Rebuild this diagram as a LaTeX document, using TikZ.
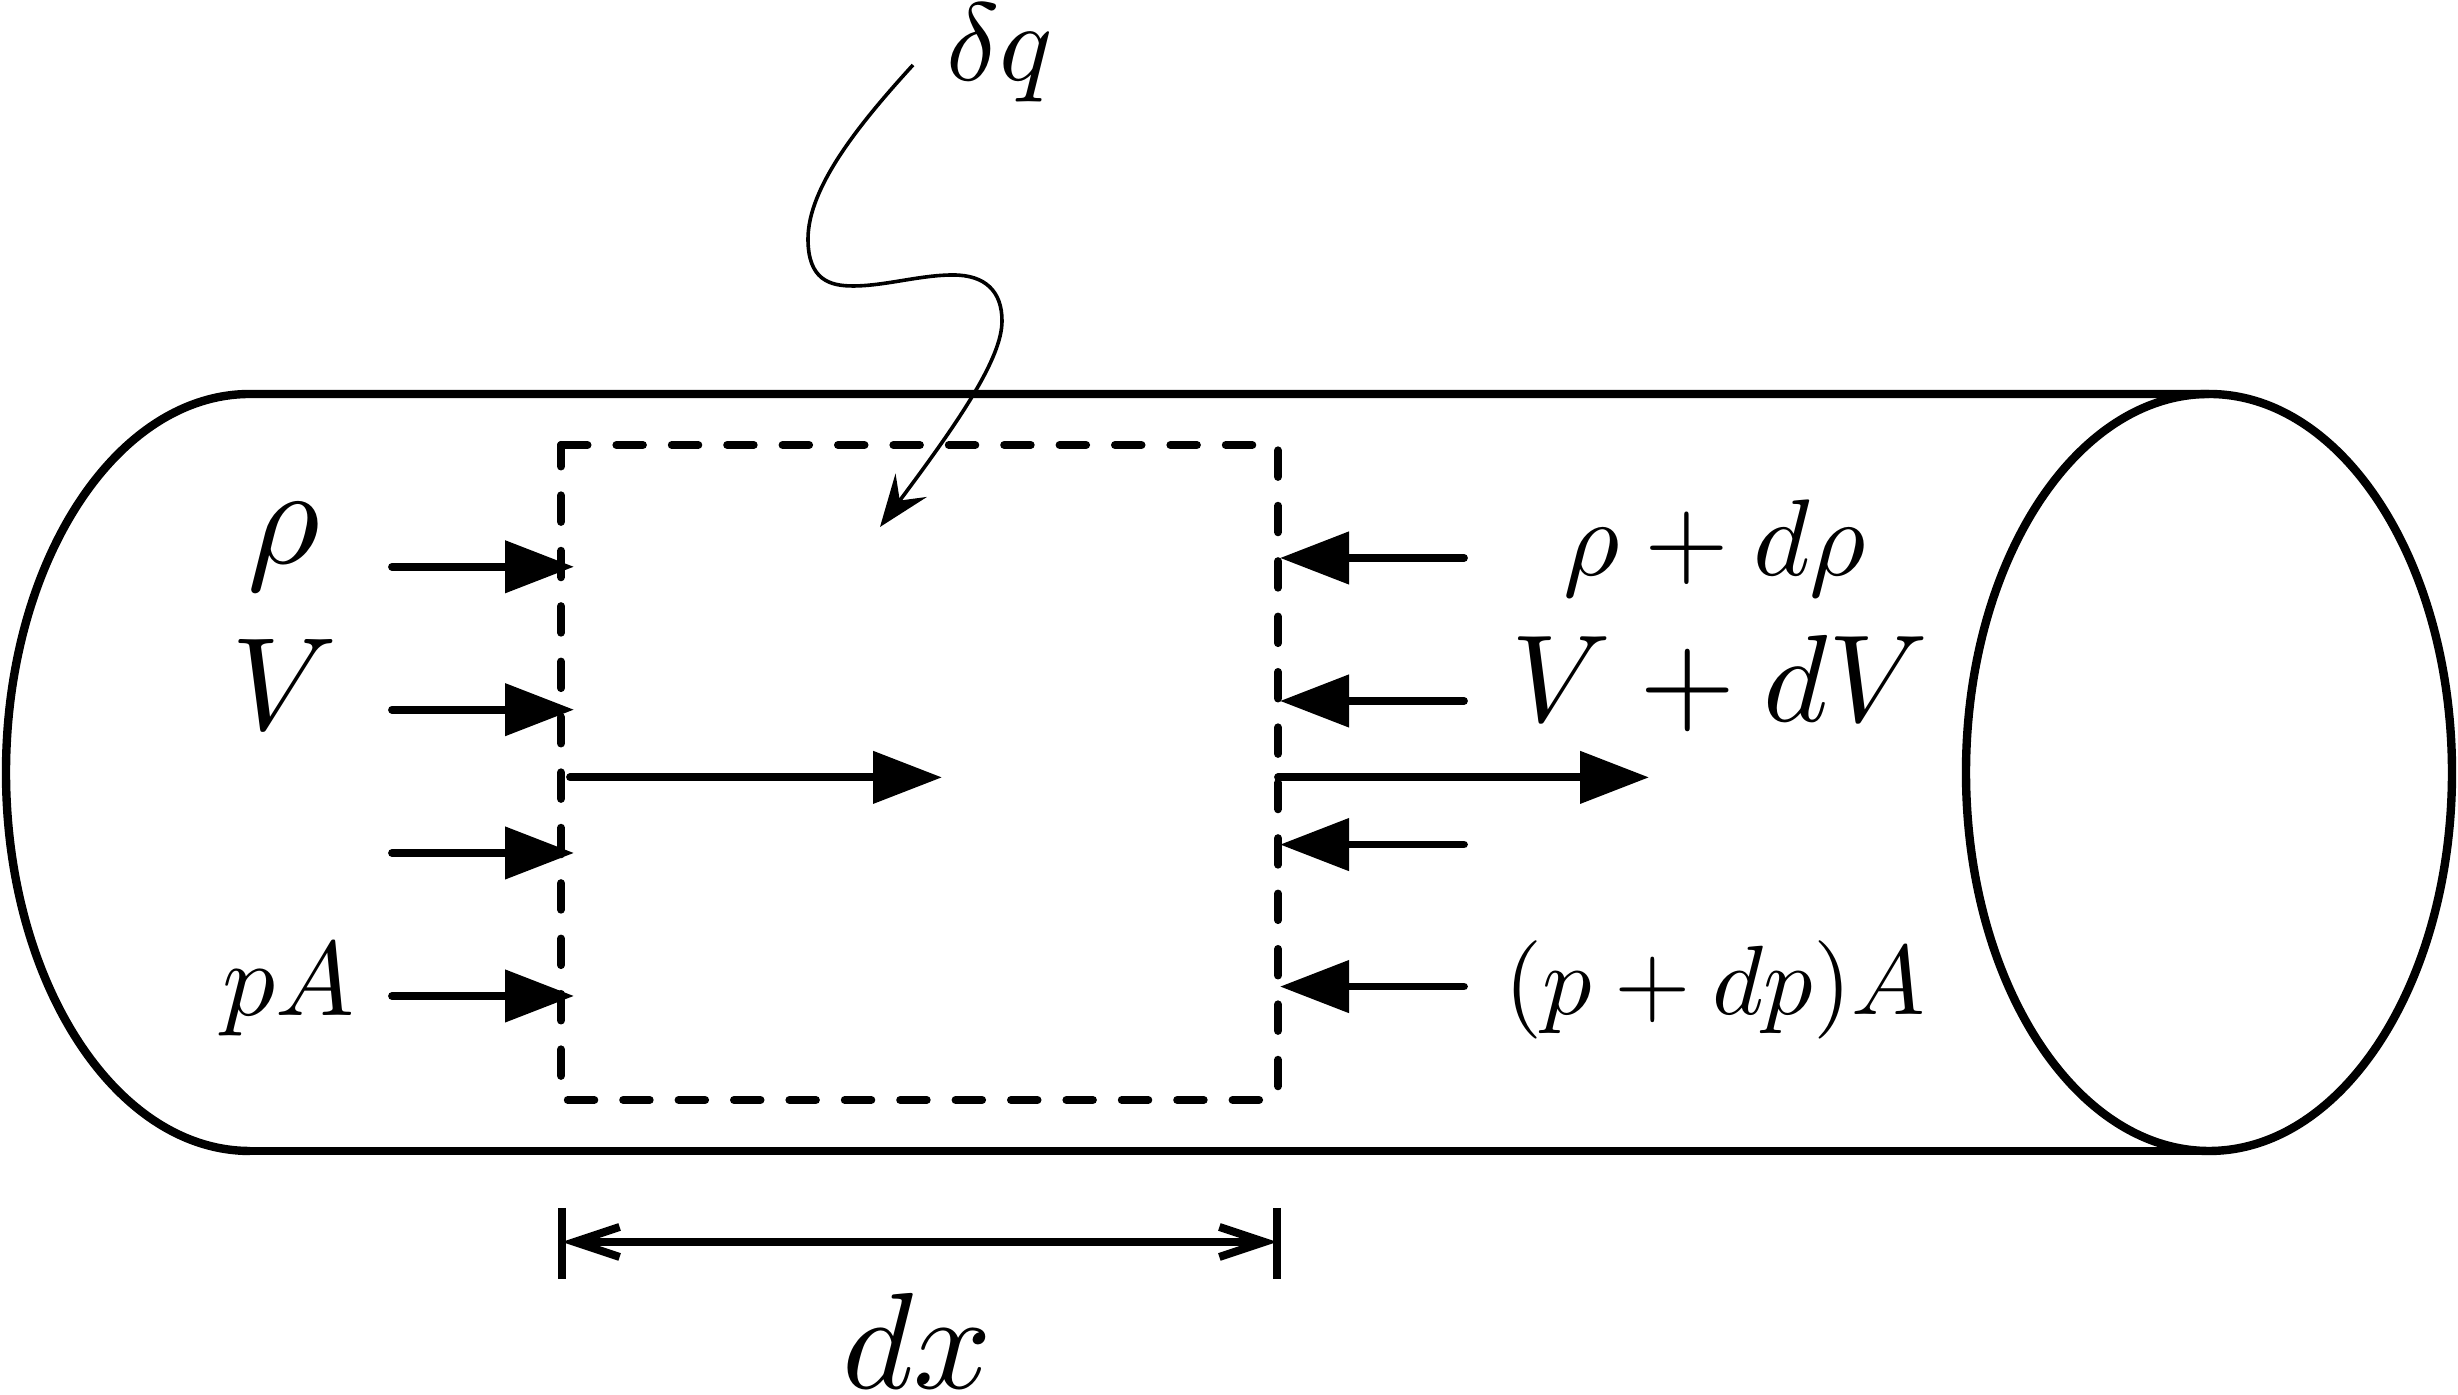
\documentclass[tikz,border=0pt]{standalone}
\usetikzlibrary{arrows.meta}
\begin{document}
\begin{tikzpicture}
\tikzset{ >={Triangle[length=6.9mm,width=5.1mm]}, inner sep=0pt, outer sep=0pt,
  wall/.style={line width=0.84mm},
  force/.style={->, line width=0.78mm, line cap=round},
  volume/.style={line width=0.8mm, line cap=round, dash pattern=on 2.65mm off 2.89mm},
  tick/.style={line width=0.8mm},
}

\useasboundingbox (0,0) rectangle (24.58,13.95);

%\draw [lightgray, dashed](0,0) grid (24,13);

\coordinate (TL) at (2.50,10.01);
\coordinate (BL) at (2.50,2.44);
\coordinate (TR) at (22.09,10.01);
\coordinate (BR) at (22.09,2.44);
\coordinate (E)  at (22.09,6.225);

\draw [wall] (BL) arc [start angle=270, end angle=90, x radius=2.44, y radius=3.785] -- (TR);
\draw [wall] (BL) -- (BR);
\draw [wall] (E) ellipse [x radius=2.43, y radius=3.785];

\coordinate (A) at (5.61,9.50);
\coordinate (B) at (12.78,9.50);
\coordinate (C) at (12.78,2.95);
\coordinate (D) at (5.61,2.95);

\draw [volume] (A) -- (B);
\draw [volume, dash phase=0.5mm] (A) -- (D);
\draw [volume, dash phase=4.86mm] (D) -- (C);
\draw [volume, dash phase=5.0mm] (B) -- (C);

\coordinate (L1) at (3.92,8.282);
\coordinate (L2) at (3.92,6.853);
\coordinate (L3) at (3.92,5.42);
\coordinate (L4) at (3.92,3.99);
\coordinate (LT1) at (5.74,8.282);
\coordinate (LT2) at (5.74,6.853);
\coordinate (LT3) at (5.74,5.42);
\coordinate (LT4) at (5.74,3.99);

\draw [force] (L1) -- (LT1);
\draw [force] (L2) -- (LT2);
\draw [force] (L3) -- (LT3);
\draw [force] (L4) -- (LT4);

\coordinate (R1) at (14.64,8.37);
\coordinate (R2) at (14.64,6.94);
\coordinate (R3) at (14.64,5.504);
\coordinate (R4) at (14.64,4.084);
\coordinate (RT1) at (12.80,8.37);
\coordinate (RT2) at (12.80,6.94);
\coordinate (RT3) at (12.80,5.504);
\coordinate (RT4) at (12.80,4.084);

\draw [force] (R1) -- (RT1);
\draw [force] (R2) -- (RT2);
\draw [force] (R3) -- (RT3);
\draw [force] (R4) -- (RT4);

\coordinate (M1) at (5.70,6.176);
\coordinate (MT1) at (9.42,6.176);
\coordinate (M2) at (12.78,6.176);
\coordinate (MT2) at (16.49,6.176);

\draw [force] (M1) -- (MT1);
\draw [force] (M2) -- (MT2);

% heat input
\coordinate (Q) at (9.13,13.30);
\coordinate (QT) at (8.80,8.68);
\draw [-{Stealth[length=5.2mm,width=3.9mm,inset=1.9mm]}, line width=0.36mm] (Q)
  .. controls (8.60,12.72) and (8.08,12.08) .. (8.08,11.56)
  .. controls (8.08,11.15) and (8.30,11.09) .. (8.53,11.09)
  .. controls (8.85,11.09) and (9.20,11.20) .. (9.53,11.20)
  .. controls (9.85,11.20) and (10.02,11.04) .. (10.02,10.74)
  .. controls (10.02,10.37) and (9.60,9.75) .. (QT);

% width of the volume
\coordinate (W1) at (5.62,1.53);
\coordinate (W2) at (12.77,1.53);
\coordinate (W1a) at (5.62,1.87);
\coordinate (W1b) at (5.62,1.16);
\coordinate (W2a) at (12.77,1.87);
\coordinate (W2b) at (12.77,1.16);
\draw [tick] (W1a) -- (W1b);
\draw [tick] (W2a) -- (W2b);
\draw [{Straight Barb[length=4.5mm,width=3mm]}-{Straight Barb[length=4.5mm,width=3mm]}, tick] (W1) -- (W2);

\node [scale=3.15] (dq) at (10.00,13.42) {$\delta q$};
\node [scale=4.0] (rho) at (2.84,8.48) {$\rho$};
\node [scale=3.75] (vel) at (2.85,7.11) {$V$};
\node [scale=3.0] (pA) at (2.89,4.05) {$pA$};
\node [scale=3.1] (rhod) at (17.15,8.47) {$\rho+d\rho$};
\node [scale=3.53] (veld) at (17.20,7.11) {$V+dV$};
\node [scale=2.8] (pAd) at (17.15,4.05) {$(p+dp)A$};
\node [scale=3.9] (dx) at (9.17,0.54) {$dx$};
\end{tikzpicture}
\end{document}
